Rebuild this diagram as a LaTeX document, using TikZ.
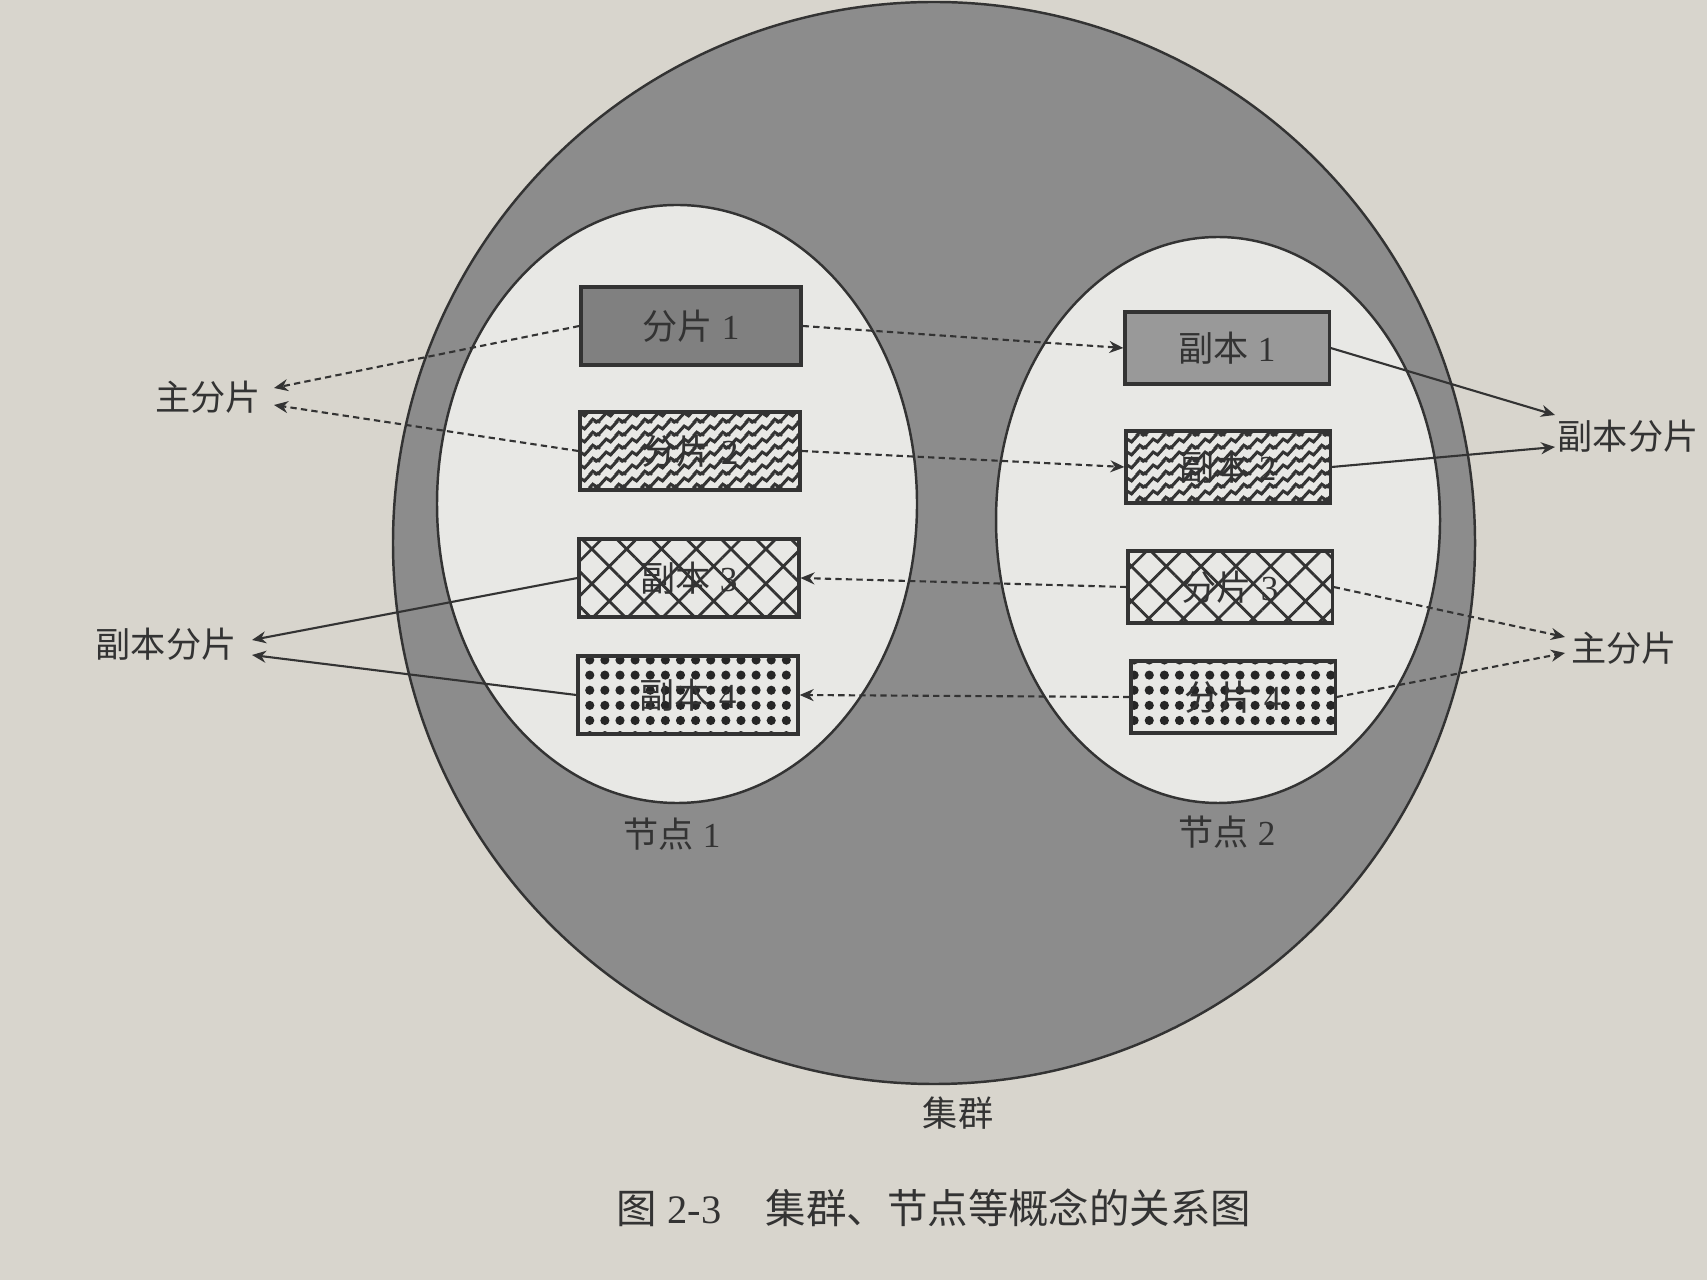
\documentclass[tikz,border=0pt]{standalone}
\usepackage{fontspec}
\setmainfont{Liberation Serif}
\newfontfamily\cjk{Noto Sans CJK SC}
\usepackage{xcolor}
\usepackage{tikz}
\usetikzlibrary{arrows.meta,positioning,patterns.meta}

\definecolor{paper}{RGB}{216,213,205}
\definecolor{inner}{RGB}{232,232,229}

% one zigzag stripe of the tile, shifted by #1,#2
\newcommand\zzpiece[2]{%
  \pgfpathmoveto{\pgfpoint{#1}{#2}}%
  \pgfpathlineto{\pgfpoint{#1+2.4pt}{#2+2.7pt}}%
  \pgfpathlineto{\pgfpoint{#1+3.7pt}{#2+1.85pt}}%
  \pgfpathlineto{\pgfpoint{#1+6.1pt}{#2+4.55pt}}%
  \pgfpathlineto{\pgfpoint{#1+7.4pt}{#2+3.7pt}}}

\pgfdeclarepattern{
  name=zigzag,
  type=uncolored,
  bottom left={\pgfpointorigin},
  top right={\pgfpoint{7.4pt}{3.7pt}},
  tile size={\pgfpoint{7.4pt}{3.7pt}},
  code={%
    \pgfsetlinewidth{0.9pt}%
    \pgfsetmiterjoin
    \zzpiece{0pt}{0pt}\zzpiece{-7.4pt}{-3.7pt}\zzpiece{7.4pt}{3.7pt}%
    \zzpiece{0pt}{3.7pt}\zzpiece{0pt}{-3.7pt}\zzpiece{7.4pt}{0pt}\zzpiece{-7.4pt}{0pt}%
    \pgfusepath{stroke}}}

\begin{document}
\begin{tikzpicture}[x=0.01cm, y=-0.01cm,
    every node/.style={font=\fontsize{10pt}{12pt}\selectfont, text=black!80},
    shardL/.style={draw=black!80, line width=0.9pt, minimum width=2.2cm, minimum height=0.78cm, inner sep=0pt},
    shardR/.style={draw=black!80, line width=0.9pt, minimum width=2.04cm, minimum height=0.72cm, inner sep=0pt},
    dasharr/.style={draw=black!80, line width=0.6pt, dash pattern=on 1.8pt off 1.2pt, -{Stealth[length=1.4mm,width=1.2mm]}},
    solarr/.style={draw=black!80, line width=0.6pt, -{Stealth[length=1.4mm,width=1.2mm]}}]

  \fill[paper] (0,0) rectangle (1707,1280);
  \useasboundingbox (0,0) rectangle (1707,1280);

  % cluster and the two nodes
  \draw[line width=0.7pt, draw=black!80, fill=black!45] (934,543) circle [radius=541];
  \draw[line width=0.7pt, draw=black!80, fill=inner] (677,504) ellipse [x radius=240, y radius=299];
  \draw[line width=0.7pt, draw=black!80, fill=inner] (1218,520) ellipse [x radius=222, y radius=283];

  % shards on node 1
  \node[shardL, fill=black!50] (fp1) at (691,326) {{\cjk 分片} 1};
  \node[shardL, pattern=zigzag, pattern color=black!80] (fp2) at (690,451) {{\cjk 分片} 2};
  \node[shardL, pattern={Hatch[angle=45,distance=7pt,line width=0.8pt]}, pattern color=black!80] (fb3) at (689,578) {{\cjk 副本} 3};
  \node[shardL, pattern={Dots[distance=4.3pt,radius=1.3pt]}, pattern color=black!85] (fb4) at (688,695) {{\cjk 副本} 4};

  % shards on node 2
  \node[shardR, fill=black!40] (fb1) at (1227,348) {{\cjk 副本} 1};
  \node[shardR, pattern=zigzag, pattern color=black!80] (fb2) at (1228,467) {{\cjk 副本} 2};
  \node[shardR, pattern={Hatch[angle=45,distance=7pt,line width=0.8pt]}, pattern color=black!80] (fp3) at (1230,587) {{\cjk 分片} 3};
  \node[shardR, pattern={Dots[distance=4.3pt,radius=1.3pt]}, pattern color=black!85] (fp4) at (1233,697) {{\cjk 分片} 4};

  % labels
  \node (zfL) at (208,397) {\cjk 主分片};
  \node (fbL) at (166,644) {\cjk 副本分片};
  \node (fbR) at (1628,436) {\cjk 副本分片};
  \node (zfR) at (1624,648) {\cjk 主分片};
  \node (nd1) at (672,834) {{\cjk 节点} 1};
  \node (nd2) at (1227,832) {{\cjk 节点} 2};
  \node (jq) at (958,1113) {\cjk 集群};
  \node[font=\fontsize{11.5pt}{14pt}\selectfont] (cap) at (934,1208) {{\cjk 图} 2-3\hspace{1.1em}{\cjk 集群、节点等概念的关系图}};

  \coordinate (zfLa) at (274,388);
  \coordinate (zfLb) at (274,405);
  \coordinate (fbLa) at (252,640);
  \coordinate (fbLb) at (252,655);
  \coordinate (fbRa) at (1555,415);
  \coordinate (fbRb) at (1555,447);
  \coordinate (zfRa) at (1565,637);
  \coordinate (zfRb) at (1565,653);

  \draw[dasharr] (fp1.west) -- (zfLa);
  \draw[dasharr] (fp2.west) -- (zfLb);
  \draw[dasharr] (fp1.east) -- (fb1.west);
  \draw[dasharr] (fp2.east) -- (fb2.west);
  \draw[solarr] (fb1.east) -- (fbRa);
  \draw[solarr] (fb2.east) -- (fbRb);
  \draw[dasharr] (fp3.west) -- (fb3.east);
  \draw[dasharr] (fp4.west) -- (fb4.east);
  \draw[dasharr] (fp3.east) -- (zfRa);
  \draw[dasharr] (fp4.east) -- (zfRb);
  \draw[solarr] (fb3.west) -- (fbLa);
  \draw[solarr] (fb4.west) -- (fbLb);
\end{tikzpicture}
\end{document}
